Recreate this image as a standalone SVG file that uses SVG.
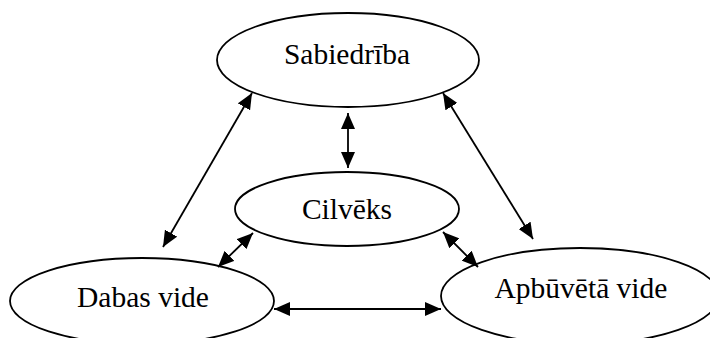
<svg xmlns="http://www.w3.org/2000/svg" width="710" height="338" viewBox="0 0 710 338">
  <style>
    .node ellipse { fill: #ffffff; stroke: #000000; stroke-width: 1.8; }
    .node text { font-family: "Liberation Serif", "Times New Roman", serif; font-size: 29.5px; fill: #000000; text-anchor: middle; }
    .link { stroke: #000000; stroke-width: 1.8; fill: none; marker-start: url(#head); marker-end: url(#head); }
  </style>
  <defs>
    <!-- solid triangular arrowhead, sized in user units -->
    <marker id="head" markerUnits="userSpaceOnUse" markerWidth="17" markerHeight="14" refX="16" refY="7" orient="auto-start-reverse">
      <path d="M0,0 L16,7 L0,14 Z" fill="#000000"/>
    </marker>
  </defs>
  <rect width="710" height="338" fill="#ffffff"/>

  <g id="sabiedriba" class="node">
    <ellipse cx="348" cy="60" rx="131" ry="47"/>
    <text x="347" y="64">Sabiedrība</text>
  </g>

  <g id="cilveks" class="node">
    <ellipse cx="347" cy="209" rx="112" ry="37"/>
    <text x="347" y="219">Cilvēks</text>
  </g>

  <g id="dabas-vide" class="node">
    <ellipse cx="142" cy="301" rx="132" ry="43"/>
    <text x="143" y="307">Dabas vide</text>
  </g>

  <g id="apbuveta-vide" class="node">
    <ellipse cx="580" cy="296" rx="139" ry="48"/>
    <text x="581" y="298">Apbūvētā vide</text>
  </g>

  <g id="connectors">
    <line class="link" x1="348" y1="113" x2="348" y2="168"/>
    <line class="link" x1="252" y1="93" x2="163" y2="247"/>
    <line class="link" x1="443" y1="93" x2="533" y2="239"/>
    <line class="link" x1="253" y1="233" x2="218" y2="267"/>
    <line class="link" x1="443" y1="232" x2="478" y2="267"/>
    <line class="link" x1="274" y1="309" x2="441" y2="309"/>
  </g>
</svg>
